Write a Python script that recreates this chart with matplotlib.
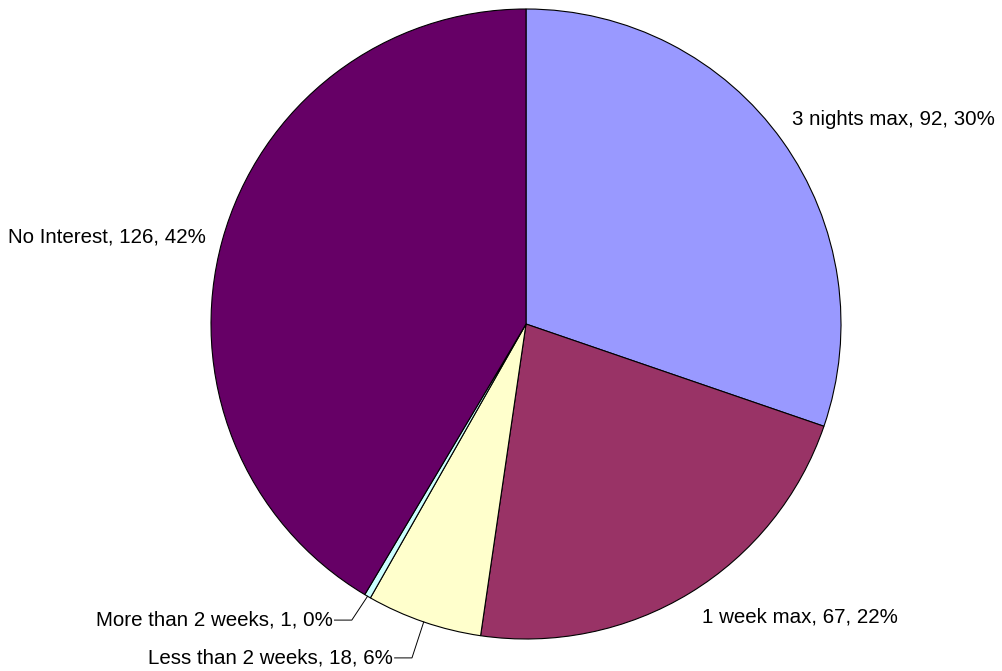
"""Pie chart: length of stay interest"""
import numpy as np
import matplotlib
matplotlib.use("Agg")
import matplotlib.pyplot as plt

plt.rcParams["font.family"] = ["Liberation Sans", "DejaVu Sans"]

labels = ["3 nights max", "1 week max", "Less than 2 weeks",
          "More than 2 weeks", "No Interest"]
counts = [92, 67, 18, 1, 126]
pct = [30, 22, 6, 0, 42]      # as printed on the chart
colors = ["#9999FF", "#993366", "#FFFFCC", "#CCFFFF", "#660066"]

# label anchor positions (axes data units, pie radius = 1) and alignment
label_pos = [(0.844, 0.648, "left"), (0.559, -0.930, "left"),
             (-0.422, -1.060, "right"), (-0.613, -0.940, "right"),
             (-1.016, 0.276, "right")]
leader = [False, False, True, True, False]

fig = plt.figure(figsize=(10.02, 6.71), dpi=100)
ax = fig.add_axes([0, 0, 1, 1])

wedges, _ = ax.pie(counts, colors=colors, startangle=90, counterclock=False,
                   radius=1, center=(0, 0), frame=True,
                   wedgeprops=dict(edgecolor="black", linewidth=0.8))
ax.set_xlim((0 - 526) / 315, (1002 - 526) / 315)
ax.set_ylim((324 - 671) / 315, 324 / 315)
ax.set_aspect("auto")
ax.axis("off")

for w, lab, n, p, (tx, ty, ha), ld in zip(wedges, labels, counts, pct,
                                           label_pos, leader):
    ax.text(tx, ty, f"{lab}, {n}, {p}%", ha=ha, va="center", fontsize=14.8,
            color="black")
    if ld:
        ang = np.deg2rad((w.theta1 + w.theta2) / 2)
        ex, ey = np.cos(ang), np.sin(ang)
        kx = tx + 0.06
        ax.plot([tx + 0.005, kx, ex], [ty, ty, ey], color="black", lw=0.7)

fig.savefig("out.png", dpi=100)
